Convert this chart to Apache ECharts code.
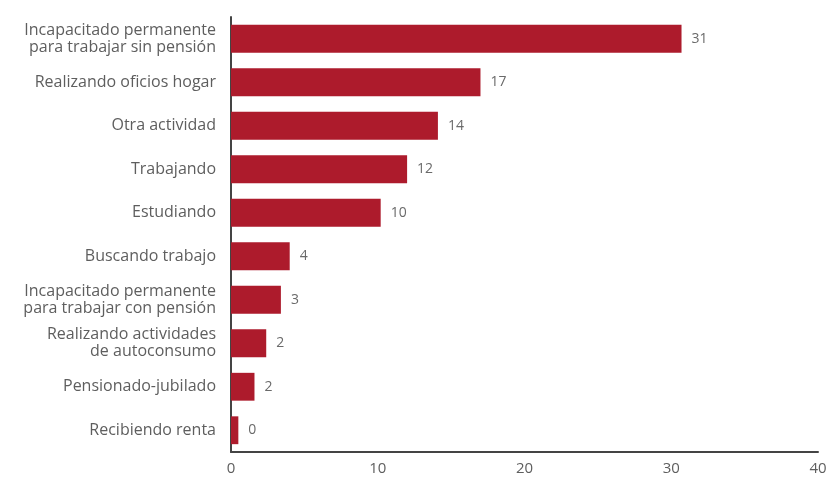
<!DOCTYPE html>
<html>
<head>
<meta charset="utf-8">
<script src="https://cdn.jsdelivr.net/npm/echarts@6/dist/echarts.min.js"></script>
<style>
  html, body { margin: 0; padding: 0; background: #fff; }
  #chart { width: 833px; height: 485px; }
</style>
</head>
<body>
<div id="chart"></div>
<script>
// categories, top to bottom
const categories = [
  'Incapacitado permanente\npara trabajar sin pensión',
  'Realizando oficios hogar',
  'Otra actividad',
  'Trabajando',
  'Estudiando',
  'Buscando trabajo',
  'Incapacitado permanente\npara trabajar con pensión',
  'Realizando actividades\nde autoconsumo',
  'Pensionado-jubilado',
  'Recibiendo renta'
]
// bar lengths
const values = [30.7, 17.0, 14.1, 12.0, 10.2, 4.0, 3.4, 2.4, 1.6, 0.5]
// labels printed next to the bars
const valueLabels = ['31', '17', '14', '12', '10', '4', '3', '2', '2', '0']
const xTicks = [0, 10, 20, 30, 40]

const textColor = '#5e5e5e'
const barColor = '#ad1b2c'
const fontFamily = 'Open Sans'

const chart = echarts.init(document.getElementById('chart'))
chart.setOption({
  animation: false,
  grid: {
    left: 231,
    right: 15,
    top: 17,
    bottom: 33
  },
  xAxis: {
    type: 'value',
    min: xTicks[0],
    max: xTicks[xTicks.length - 1],
    interval: 10,
    splitLine: { show: false },
    axisTick: { show: false },
    axisLine: { show: true, lineStyle: { color: '#444', width: 2 } },
    axisLabel: {
      color: textColor,
      fontFamily,
      fontSize: 15,
      margin: 9
    }
  },
  yAxis: {
    type: 'category',
    inverse: true,
    data: categories,
    axisTick: { show: false },
    axisLine: { show: true, lineStyle: { color: '#444', width: 2 } },
    axisLabel: {
      color: textColor,
      fontFamily,
      fontSize: 16,
      lineHeight: 17,
      margin: 15,
      align: 'right'
    }
  },
  series: [{
    type: 'bar',
    data: values,
    barWidth: '64%',
    itemStyle: { color: barColor },
    label: {
      show: true,
      position: 'right',
      distance: 10,
      color: '#6a6a6a',
      fontFamily,
      fontSize: 14,
      formatter: p => valueLabels[p.dataIndex]
    }
  }]
})
</script>
</body>
</html>
